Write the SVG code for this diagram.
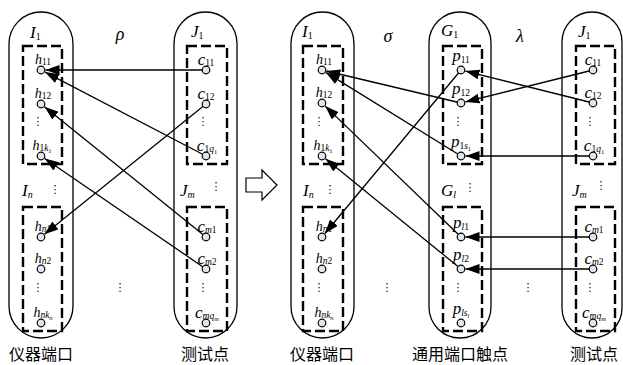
<svg xmlns="http://www.w3.org/2000/svg" width="623" height="365" viewBox="0 0 623 365">
<style>
.pill{fill:none;stroke:#000;stroke-width:1.3}
.box{fill:none;stroke:#000;stroke-width:2.4;stroke-dasharray:10 4}
.nd{fill:#dde7f3;stroke:#000;stroke-width:1.2}
.ln{stroke:#000;stroke-width:1.3;fill:none;marker-end:url(#ah)}
.v{font-family:"Liberation Serif","Times New Roman",serif;font-style:italic;text-anchor:middle}
.gl{font-family:"Liberation Serif","Times New Roman",serif;font-style:italic;font-size:17px}
.r{font-style:normal}
.hl{font-size:14px}
.cl{font-size:17px}
.s{font-size:9.5px}
.ss{font-size:6.5px}
.gs{font-size:10px}
.dots{font-family:"DejaVu Sans",sans-serif;font-size:11px;text-anchor:middle;fill:#000}
.cn{font-family:"Noto Sans CJK SC",sans-serif;font-size:16px;text-anchor:middle}
.gr{font-family:"Liberation Serif","Times New Roman",serif;font-style:italic;font-size:18px;text-anchor:middle}
</style>
<defs>
<marker id="ah" markerUnits="userSpaceOnUse" markerWidth="15" markerHeight="11" refX="14" refY="5" orient="auto">
<path d="M0,0 L14,5 L0,10 z" fill="#000"/>
</marker>
</defs>

<!-- containers -->
<g id="L-I">
<rect class="pill" x="9" y="12" width="64" height="326" rx="32" ry="32"/>
<rect class="box" x="23" y="46" width="39" height="118"/>
<rect class="box" x="23" y="207" width="39" height="124"/>
<text class="gl" x="30" y="38">I<tspan class="r gs" dy="2">1</tspan></text>
<text class="gl" x="22" y="196">I<tspan class="gs" dy="2">n</tspan></text>
</g>
<g id="L-J">
<rect class="pill" x="174" y="12" width="63" height="326" rx="31.5" ry="31.5"/>
<rect class="box" x="187" y="46" width="40" height="118"/>
<rect class="box" x="187" y="207" width="40" height="124"/>
<text class="gl" x="191" y="37">J<tspan class="r gs" dy="2">1</tspan></text>
<text class="gl" x="180" y="196">J<tspan class="gs" dy="2">m</tspan></text>
</g>
<g id="R-I">
<rect class="pill" x="291" y="12" width="63" height="326" rx="31.5" ry="31.5"/>
<rect class="box" x="303" y="46" width="40" height="118"/>
<rect class="box" x="303" y="207" width="40" height="124"/>
<text class="gl" x="302" y="37">I<tspan class="r gs" dy="2">1</tspan></text>
<text class="gl" x="303" y="196">I<tspan class="gs" dy="2">n</tspan></text>
</g>
<g id="R-G">
<rect class="pill" x="429" y="12" width="62" height="326" rx="31" ry="31"/>
<rect class="box" x="443" y="46" width="39" height="118"/>
<rect class="box" x="443" y="207" width="39" height="124"/>
<text class="gl" x="441" y="36">G<tspan class="r gs" dy="2">1</tspan></text>
<text class="gl" x="441" y="196">G<tspan class="gs" dy="2">l</tspan></text>
</g>
<g id="R-J">
<rect class="pill" x="562" y="12" width="60" height="326" rx="30" ry="30"/>
<rect class="box" x="576" y="46" width="39" height="118"/>
<rect class="box" x="576" y="207" width="39" height="124"/>
<text class="gl" x="578" y="37">J<tspan class="r gs" dy="2">1</tspan></text>
<text class="gl" x="572" y="196">J<tspan class="gs" dy="2">m</tspan></text>
</g>

<!-- greek labels and ellipses -->
<g id="labels">
<text class="gr" x="120" y="40">ρ</text>
<text class="gr" x="388" y="42">σ</text>
<text class="gr" x="520" y="42">λ</text>
<text class="dots" x="38" y="125">⋮</text>
<text class="dots" x="38" y="291">⋮</text>
<text class="dots" x="203" y="125">⋮</text>
<text class="dots" x="203" y="291">⋮</text>
<text class="dots" x="55" y="193">⋮</text>
<text class="dots" x="216" y="190">⋮</text>
<text class="dots" x="120" y="291">⋮</text>
<text class="dots" x="319" y="125">⋮</text>
<text class="dots" x="319" y="291">⋮</text>
<text class="dots" x="458" y="125">⋮</text>
<text class="dots" x="458" y="291">⋮</text>
<text class="dots" x="590" y="125">⋮</text>
<text class="dots" x="590" y="291">⋮</text>
<text class="dots" x="330" y="193">⋮</text>
<text class="dots" x="470" y="191">⋮</text>
<text class="dots" x="601" y="189">⋮</text>
<text class="dots" x="387" y="291">⋮</text>
<text class="dots" x="528" y="291">⋮</text>
<text class="cn" x="41" y="360">仪器端口</text>
<text class="cn" x="205" y="360">测试点</text>
<text class="cn" x="322" y="360">仪器端口</text>
<text class="cn" x="460" y="360">通用端口触点</text>
<text class="cn" x="594" y="360">测试点</text>
</g>

<!-- transform arrow -->
<g id="transform">
<polygon points="246,178 262,178 262,170 277,185 262,200 262,192 246,192" fill="#fff" stroke="#000" stroke-width="1.2"/>
</g>

<!-- connectors -->
<g id="connectors">
<line class="ln" x1="206" y1="70" x2="45.5" y2="70"/>
<line class="ln" x1="206" y1="156" x2="45" y2="72.1"/>
<line class="ln" x1="206" y1="237" x2="44.5" y2="106.8"/>
<line class="ln" x1="206" y1="269" x2="44.7" y2="158.5"/>
<line class="ln" x1="206" y1="104" x2="44.5" y2="234.2"/>
<line class="ln" x1="461" y1="103" x2="326.4" y2="71"/>
<line class="ln" x1="461" y1="156" x2="325.8" y2="72.4"/>
<line class="ln" x1="461" y1="237" x2="325.2" y2="106.1"/>
<line class="ln" x1="461" y1="269" x2="325.5" y2="158.8"/>
<line class="ln" x1="461" y1="70" x2="324.9" y2="233.5"/>
<line class="ln" x1="593" y1="70" x2="465.4" y2="101.9"/>
<line class="ln" x1="593" y1="103" x2="465.4" y2="71.1"/>
<line class="ln" x1="593" y1="156" x2="465.5" y2="156"/>
<line class="ln" x1="593" y1="237" x2="465.5" y2="237"/>
<line class="ln" x1="593" y1="269" x2="465.5" y2="269"/>
</g>

<!-- left panel nodes -->
<g id="L-h11"><circle class="nd" cx="41" cy="70" r="3.8"/><text class="v hl" x="43" y="64">h<tspan class="r s" dy="1">11</tspan></text></g>
<g id="L-h12"><circle class="nd" cx="41" cy="104" r="3.8"/><text class="v hl" x="43" y="98">h<tspan class="r s" dy="1">12</tspan></text></g>
<g id="L-h1k1"><circle class="nd" cx="41" cy="156" r="3.8"/><text class="v hl" x="42" y="150">h<tspan class="r s" dy="1">1</tspan><tspan class="s" dy="0">k</tspan><tspan class="r ss" dy="1.5">1</tspan></text></g>
<g id="L-hn1"><circle class="nd" cx="41" cy="237" r="3.8"/><text class="v hl" x="43" y="231">h<tspan class="s" dy="1">n</tspan><tspan class="r s">1</tspan></text></g>
<g id="L-hn2"><circle class="nd" cx="41" cy="269" r="3.8"/><text class="v hl" x="43" y="263">h<tspan class="s" dy="1">n</tspan><tspan class="r s">2</tspan></text></g>
<g id="L-hnkn"><circle class="nd" cx="41" cy="323" r="3.8"/><text class="v hl" x="43" y="317">h<tspan class="s" dy="1">nk</tspan><tspan class="ss" dy="1.5">n</tspan></text></g>
<g id="L-c11"><circle class="nd" cx="206" cy="70" r="3.8"/><text class="v cl" x="206" y="65">c<tspan class="r s" dy="1">11</tspan></text></g>
<g id="L-c12"><circle class="nd" cx="206" cy="104" r="3.8"/><text class="v cl" x="206" y="99">c<tspan class="r s" dy="1">12</tspan></text></g>
<g id="L-c1q1"><circle class="nd" cx="206" cy="156" r="3.8"/><text class="v cl" x="207" y="151">c<tspan class="r s" dy="1">1</tspan><tspan class="s">q</tspan><tspan class="r ss" dy="1.5">1</tspan></text></g>
<g id="L-cm1"><circle class="nd" cx="206" cy="237" r="3.8"/><text class="v cl" x="207" y="232">c<tspan class="s" dy="1">m</tspan><tspan class="r s">1</tspan></text></g>
<g id="L-cm2"><circle class="nd" cx="206" cy="269" r="3.8"/><text class="v cl" x="207" y="264">c<tspan class="s" dy="1">m</tspan><tspan class="r s">2</tspan></text></g>
<g id="L-cmqm"><circle class="nd" cx="206" cy="323" r="3.8"/><text class="v cl" x="207" y="318">c<tspan class="s" dy="1">mq</tspan><tspan class="ss" dy="1.5">m</tspan></text></g>

<!-- right panel I nodes -->
<g id="R-h11"><circle class="nd" cx="322" cy="70" r="3.8"/><text class="v hl" x="324" y="64">h<tspan class="r s" dy="1">11</tspan></text></g>
<g id="R-h12"><circle class="nd" cx="322" cy="103" r="3.8"/><text class="v hl" x="324" y="97">h<tspan class="r s" dy="1">12</tspan></text></g>
<g id="R-h1k1"><circle class="nd" cx="322" cy="156" r="3.8"/><text class="v hl" x="323" y="150">h<tspan class="r s" dy="1">1</tspan><tspan class="s">k</tspan><tspan class="r ss" dy="1.5">1</tspan></text></g>
<g id="R-hn1"><circle class="nd" cx="322" cy="237" r="3.8"/><text class="v hl" x="324" y="231">h<tspan class="s" dy="1">n</tspan><tspan class="r s">1</tspan></text></g>
<g id="R-hn2"><circle class="nd" cx="322" cy="269" r="3.8"/><text class="v hl" x="324" y="263">h<tspan class="s" dy="1">n</tspan><tspan class="r s">2</tspan></text></g>
<g id="R-hnkn"><circle class="nd" cx="322" cy="323" r="3.8"/><text class="v hl" x="324" y="317">h<tspan class="s" dy="1">nk</tspan><tspan class="ss" dy="1.5">n</tspan></text></g>

<!-- right panel G nodes -->
<g id="R-p11"><circle class="nd" cx="461" cy="70" r="3.8"/><text class="v cl" x="461" y="61">p<tspan class="r s" dy="2">11</tspan></text></g>
<g id="R-p12"><circle class="nd" cx="461" cy="103" r="3.8"/><text class="v cl" x="461" y="94">p<tspan class="r s" dy="2">12</tspan></text></g>
<g id="R-p1s1"><circle class="nd" cx="461" cy="156" r="3.8"/><text class="v cl" x="461" y="147">p<tspan class="r s" dy="2">1</tspan><tspan class="s">s</tspan><tspan class="r ss" dy="1.5">1</tspan></text></g>
<g id="R-pl1"><circle class="nd" cx="461" cy="237" r="3.8"/><text class="v cl" x="461" y="228">p<tspan class="s" dy="2">l</tspan><tspan class="r s">1</tspan></text></g>
<g id="R-pl2"><circle class="nd" cx="461" cy="269" r="3.8"/><text class="v cl" x="461" y="260">p<tspan class="s" dy="2">l</tspan><tspan class="r s">2</tspan></text></g>
<g id="R-plsl"><circle class="nd" cx="461" cy="323" r="3.8"/><text class="v cl" x="461" y="314">p<tspan class="s" dy="2">ls</tspan><tspan class="ss" dy="1.5">l</tspan></text></g>

<!-- right panel J nodes -->
<g id="R-c11"><circle class="nd" cx="593" cy="70" r="3.8"/><text class="v cl" x="593" y="65">c<tspan class="r s" dy="1">11</tspan></text></g>
<g id="R-c12"><circle class="nd" cx="593" cy="103" r="3.8"/><text class="v cl" x="593" y="98">c<tspan class="r s" dy="1">12</tspan></text></g>
<g id="R-c1q1"><circle class="nd" cx="593" cy="156" r="3.8"/><text class="v cl" x="594" y="151">c<tspan class="r s" dy="1">1</tspan><tspan class="s">q</tspan><tspan class="r ss" dy="1.5">1</tspan></text></g>
<g id="R-cm1"><circle class="nd" cx="593" cy="237" r="3.8"/><text class="v cl" x="594" y="232">c<tspan class="s" dy="1">m</tspan><tspan class="r s">1</tspan></text></g>
<g id="R-cm2"><circle class="nd" cx="593" cy="269" r="3.8"/><text class="v cl" x="594" y="264">c<tspan class="s" dy="1">m</tspan><tspan class="r s">2</tspan></text></g>
<g id="R-cmqm"><circle class="nd" cx="593" cy="323" r="3.8"/><text class="v cl" x="594" y="318">c<tspan class="s" dy="1">mq</tspan><tspan class="ss" dy="1.5">m</tspan></text></g>
</svg>
